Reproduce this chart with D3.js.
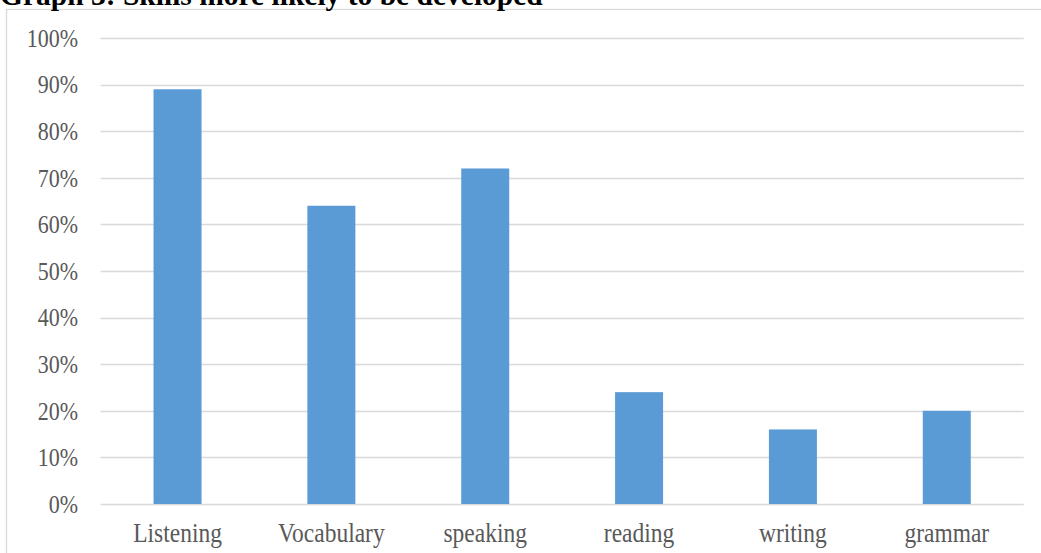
<!DOCTYPE html>
<html>
<head>
<meta charset="utf-8">
<script src="https://cdn.jsdelivr.net/npm/d3@7"></script>
<style>
  html, body { margin: 0; padding: 0; background: #fff; }
  svg { display: block; }
</style>
</head>
<body>
<svg id="chart" width="1041" height="553"></svg>
<script>
// Share of respondents naming each skill
const categories = ["Listening", "Vocabulary", "speaking", "reading", "writing", "grammar"];
const values = [0.89, 0.64, 0.72, 0.24, 0.16, 0.20];
const yTicks = [0, 0.1, 0.2, 0.3, 0.4, 0.5, 0.6, 0.7, 0.8, 0.9, 1.0];
const title = "Graph 3: Skills more likely to be developed";

const svg = d3.select("#chart");
const W = 1041, H = 553;
const plot = { left: 100.6, right: 1023.7, top: 38, bottom: 504 };
const serif = "'Liberation Serif', 'Times New Roman', serif";
const stretch = 1.12; // labels are set slightly tall

// Chart frame
svg.append("rect")
  .attr("x", 6.5).attr("y", 9.5)
  .attr("width", W + 10).attr("height", H + 10)
  .attr("fill", "#fff")
  .attr("stroke", "#d9d9d9").attr("stroke-width", 1.3);

// Heading above the frame
svg.append("text")
  .attr("x", 0).attr("y", 5)
  .attr("font-family", serif)
  .attr("font-weight", "bold")
  .attr("font-size", 29.5)
  .attr("fill", "#000")
  .text(title);

const x = d3.scaleBand()
  .domain(categories)
  .range([plot.left, plot.right])
  .paddingInner(0.688)
  .paddingOuter(0.344);

const y = d3.scaleLinear()
  .domain([0, 1])
  .range([plot.bottom, plot.top]);

// Horizontal gridlines
svg.append("g")
  .selectAll("line")
  .data(yTicks)
  .join("line")
  .attr("x1", plot.left).attr("x2", plot.right)
  .attr("y1", d => Math.round(y(d)) + 0.5)
  .attr("y2", d => Math.round(y(d)) + 0.5)
  .attr("stroke", "#d9d9d9")
  .attr("stroke-width", 1.3);

// Y axis labels
const yAxis = d3.axisLeft(y)
  .tickValues(yTicks)
  .tickFormat(d3.format(".0%"))
  .tickSize(0)
  .tickPadding(0);

const gy = svg.append("g")
  .attr("transform", `translate(78,0)`)
  .call(yAxis);
gy.select(".domain").remove();
gy.selectAll("text")
  .attr("font-family", serif)
  .attr("font-size", 22)
  .attr("fill", "#595959")
  .attr("x", 0)
  .attr("y", 0)
  .attr("dy", "0.34em")
  .attr("transform", `scale(1,${stretch})`);

// Bars
svg.append("g")
  .selectAll("rect")
  .data(categories.map((c, i) => ({ c, v: values[i] })))
  .join("rect")
  .attr("x", d => x(d.c))
  .attr("width", x.bandwidth())
  .attr("y", d => y(d.v))
  .attr("height", d => y(0) - y(d.v))
  .attr("fill", "#5b9bd5");

// Category labels
const xAxis = d3.axisBottom(x).tickSize(0).tickPadding(0);
const gx = svg.append("g")
  .attr("transform", `translate(0,${plot.bottom})`)
  .call(xAxis);
gx.select(".domain").remove();
gx.selectAll("text")
  .attr("font-family", serif)
  .attr("font-size", 23.5)
  .attr("fill", "#595959")
  .attr("dy", 0)
  .attr("y", 38 / stretch)
  .attr("transform", `scale(1,${stretch})`);
</script>
</body>
</html>
